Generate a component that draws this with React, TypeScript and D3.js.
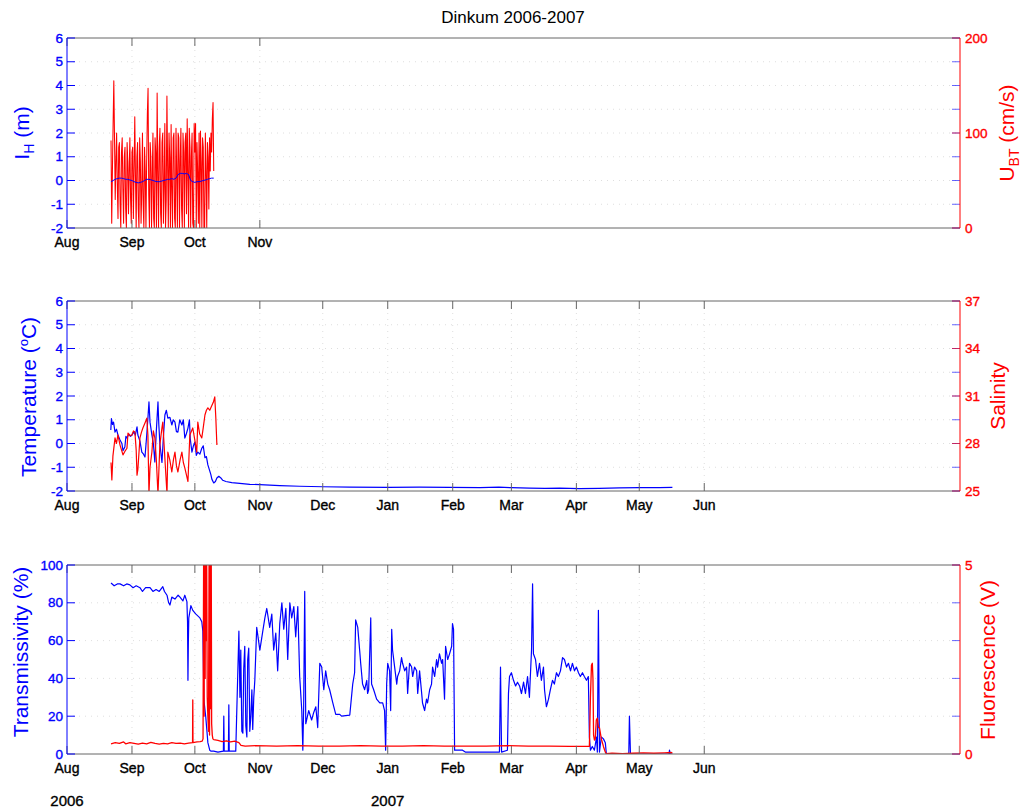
import React from "react";
import * as d3 from "d3";

const FONT = "'Liberation Sans', Arial, Helvetica, sans-serif";
const BLUE = "#0000ff";
const RED = "#ff0000";
const AXIS_GRAY = "#666666";

// ---- time axis ----
const axisStart = "2006-08-01";
const axisEnd = "2007-10-01";
const monthsShort = ["2006-08-01", "2006-09-01", "2006-10-01", "2006-11-01"];
const monthsLong = [
  "2006-08-01", "2006-09-01", "2006-10-01", "2006-11-01", "2006-12-01", "2007-01-01",
  "2007-02-01", "2007-03-01", "2007-04-01", "2007-05-01", "2007-06-01",
];
const yearLabels = ["2006", "2007"];
const yearDates = ["2006-08-01", "2007-01-01"];

// ---- tick values ----
const ihTicks = [-2, -1, 0, 1, 2, 3, 4, 5, 6];
const ubtTicks = [0, 100, 200];
const tempTicks = [-2, -1, 0, 1, 2, 3, 4, 5, 6];
const salTicks = [25, 28, 31, 34, 37];
const transTicks = [0, 20, 40, 60, 80, 100];
const fluorTicks = [0, 5];

// ---- data (days since 2006-08-01) ----
// Panel 1: U_BT (cm/s), sampled every 1/3 day from day 21
const ubtStartDay = 21;
const ubtStepDay = 1 / 3;
const ubtValues = [
  92, 5, 60, 110, 155, 95, 30, 70, 100, 45,
  10, 85, 90, 25, 0, 80, 95, 40, 5, 75,
  85, 20, 0, 90, 70, 15, 60, 95, 30, 5,
  80, 85, 10, 60, 117, 55, 0, 75, 90, 20,
  0, 95, 70, 5, 40, 100, 25, 0, 85, 60,
  0, 70, 120, 147, 35, 0, 90, 75, 0, 55,
  100, 10, 0, 95, 80, 0, 142, 60, 0, 85,
  105, 15, 0, 90, 100, 5, 45, 110, 0, 30,
  139, 65, 0, 100, 75, 0, 109, 40, 0, 95,
  100, 10, 0, 105, 60, 0, 100, 95, 0, 70,
  105, 20, 0, 100, 80, 0, 90, 100, 15, 115,
  60, 0, 105, 85, 0, 75, 100, 5, 0, 110,
  80, 110, 0, 90, 60, 5, 100, 0, 102, 70,
  0, 95, 85, 0, 0, 100, 60, 0, 90, 75,
  20, 95, 60, 100, 80, 115, 132, 60,
];
// Panel 1: I_H (m), daily from day 21
const ihStartDay = 21;
const ihStepDay = 1;
const ihValues = [
  -0.05, 0.0, 0.05, 0.08, 0.1, 0.1, 0.08, 0.05, 0.05, 0.02,
  0.0, -0.05, -0.08, -0.1, -0.08, -0.05, 0.0, 0.05, 0.05, 0.03,
  0.0, -0.03, -0.05, -0.05, -0.03, 0.0, 0.02, 0.05, 0.05, 0.08,
  0.05, 0.1, 0.25, 0.3, 0.3, 0.28, 0.3, 0.25, 0.0, -0.05,
  -0.08, -0.05, -0.05, -0.03, 0.0, 0.02, 0.05, 0.08, 0.1, 0.1,
];

// Panel 2: temperature (°C)
const tempDays = [
  20.9, 21.2, 21.7, 22.2, 22.9, 23.6, 24.3, 25.3, 26.2, 26.7, 27.6, 28.1, 28.6, 29.5, 30.3, 31.0,
  31.9, 32.6, 33.4, 33.8, 34.8, 35.7, 36.5, 37.2, 37.9, 38.6, 39.1, 39.6, 40.5, 41.2, 41.9, 42.6,
  43.4, 43.8, 44.3, 45.3, 46.0, 46.7, 47.4, 48.1, 49.1, 50.0, 50.7, 51.5, 52.2, 52.9, 53.8, 54.8,
  55.5, 56.2, 56.9, 57.7, 58.4, 58.8, 59.6, 60.3, 61.0, 61.7, 62.4, 63.4, 64.3, 65.0, 65.8, 66.5,
  67.2, 67.9, 68.6, 69.1, 70.0, 70.8, 71.5, 72.4, 73.4, 74.3, 75.8, 78.6, 82.4, 87.2, 92.0, 101.5,
  111, 122, 135, 153, 168, 182.5, 197, 206, 212, 220.6, 228, 235, 244.5, 254, 263.5, 273, 282.6, 288.8,
];
const tempValues = [
  0.57, 1.05, 0.8, 0.9, 0.48, 0.6, 0.36, 0.15, 0.0, -0.3, -0.15, 0.3, 0.23, 0.4, 0.3, 0.36,
  0.5, 0.35, 0.7, 0.36, 0.1, -0.36, -0.45, -0.57, 0.2, 1.07, 1.75, 0.9, 0.36, 0.0, -0.78, 0.5,
  1.75, 0.8, 0.0, -0.8, 0.3, 1.2, 1.4, 1.07, 1.1, 0.78, 1.0, 0.9, 0.5, 0.48, 1.0, 0.78,
  1.0, 0.23, 0.4, 0.65, 1.0, 0.2, -0.36, -0.1, 0.06, -0.5, -0.36, -0.45, -0.2, -0.1, -0.6, -0.55,
  -0.9, -1.1, -1.3, -1.5, -1.66, -1.6, -1.45, -1.38, -1.45, -1.55, -1.6, -1.65, -1.68, -1.72, -1.73, -1.77,
  -1.8, -1.82, -1.84, -1.85, -1.84, -1.85, -1.86, -1.84, -1.86, -1.88, -1.89, -1.88, -1.9, -1.89, -1.87, -1.86, -1.86, -1.85,
];
// Panel 2: salinity
const salDays = [
  21.0, 21.4, 21.9, 22.9, 23.6, 24.3, 25.3, 26.0, 26.7, 27.6, 28.6, 29.1, 30.0, 31.0, 31.7, 32.4,
  33.0, 33.4, 33.8, 34.8, 35.5, 36.2, 37.2, 38.1, 38.6, 39.1, 39.6, 40.5, 41.2, 41.9, 42.6, 43.4,
  44.3, 45.3, 45.7, 46.5, 47.7, 48.1, 49.0, 50.0, 50.8, 51.5, 52.2, 52.9, 54.0, 54.8, 55.5, 56.2,
  57.0, 57.7, 58.6, 60.0, 61.0, 61.9, 62.4, 63.3, 64.3, 65.0, 65.8, 66.5, 67.2, 68.1, 69.1, 69.8,
  70.5, 71.0, 71.5,
];
const salValues = [
  26.8, 25.7, 27.2, 28.35, 28.0, 28.54, 27.9, 27.6, 27.28, 27.5, 27.7, 28.66, 28.5, 28.54, 28.8, 28.72,
  27.6, 26.0, 26.35, 28.35, 28.7, 28.98, 29.3, 29.6, 28.5, 24.8, 26.5, 27.46, 28.8, 28.35, 27.0, 24.8,
  27.91, 29.0, 29.35, 27.5, 24.8, 27.46, 27.0, 26.2, 27.0, 27.46, 26.6, 26.2, 27.0, 27.46, 26.8, 26.46,
  26.0, 25.6, 28.54, 28.98, 28.2, 27.46, 29.35, 28.6, 28.35, 29.0, 29.8, 30.1, 30.25, 30.1, 30.4, 30.6,
  30.94, 29.6, 27.91,
];

// Panel 3: transmissivity (%)
const transDays = [
  21.0, 22.5, 24, 25.3, 27, 28.5, 30.0, 31.5, 33, 34.8, 36, 37.5, 39.6, 41, 42.5, 44,
  45.7, 46.5, 47.7, 48.5, 49.1, 50.0, 51.5, 53.0, 53.9, 55.3, 56.2, 57.2, 57.5, 57.7, 57.9, 58.1,
  59.1, 60.0, 61.5, 63.4, 64.3, 64.8, 65.3, 66.2, 67.2, 68.1, 68.6, 70, 72, 74.6, 74.8, 75.0,
  77.0, 77.2, 77.4, 80.5, 81.0, 82.0, 82.5, 82.9, 83.4, 83.9, 84.3, 84.8, 85.3, 85.8, 86.2, 86.7,
  87.2, 87.7, 88.2, 88.6, 89.1, 89.6, 90.5, 92.0, 93.4, 94.4, 95.3, 96.7, 97.7, 98.6, 99.6, 100.5,
  101.5, 102.5, 103.4, 104.4, 105.3, 106.3, 107.2, 108.2, 109.1, 110.1, 111.0, 112.0, 112.5, 112.9, 113.4, 113.9,
  115.3, 116.7, 117.7, 118.7, 119.6, 120.6, 121.5, 122.5, 123.4, 124.4, 125.3, 126.8, 128.2, 130.1, 131.0, 134.9,
  136.3, 137.2, 137.7, 138.7, 139.6, 140.1, 141.0, 142.0, 143.0, 143.4, 143.9, 144.9, 145.3, 146.3, 147.7, 149.2,
  150.6, 151.5, 152.0, 152.5, 153.0, 153.9, 154.4, 154.9, 155.3, 156.3, 157.3, 157.7, 158.7, 159.6, 160.1, 161.1,
  162.0, 162.5, 163.4, 164.4, 164.9, 165.8, 166.8, 167.3, 168.2, 169.2, 169.6, 170.6, 171.5, 172.0, 173.0, 173.9,
  174.4, 175.4, 176.3, 176.8, 177.7, 178.7, 179.2, 180.1, 180.6, 181.6, 182.5, 183.5, 183.9, 184.4, 184.9, 188.7,
  190, 206.3, 206.8, 207.3, 210.1, 210.6, 211.1, 212.0, 213.0, 214.0, 214.9, 215.9, 216.8, 217.8, 218.7, 219.7,
  220.6, 221.6, 222.1, 222.5, 223.5, 224.4, 225.4, 226.3, 227.3, 227.8, 228.7, 229.7, 230.6, 231.6, 232.5, 233.5,
  234.4, 235.4, 236.4, 237.3, 238.3, 239.2, 240.2, 241.1, 242.1, 243.0, 244.0, 244.9, 245.9, 246.8, 247.8, 248.7,
  249.2, 249.7, 250.6, 251.6, 252.6, 253.0, 253.5, 254.0, 254.9, 255.9, 256.8, 257.3, 268.0, 268.3, 268.8, 287.2,
  287.4, 287.8, 288.8,
];
const transValues = [
  90.5, 89, 90, 90, 89, 90, 89.5, 88, 89, 88, 86, 88, 88, 86, 87, 86,
  88.5, 86, 84, 80, 78.8, 83, 82, 84, 83, 81, 84, 80.6, 70, 39, 60, 72,
  78.5, 76, 74, 72, 70, 65, 28.5, 19.6, 6, 2, 1.5, 1.5, 1, 1.5, 20, 1.5,
  1.5, 26, 1.5, 1.5, 23, 65, 30, 55, 12, 11, 45, 57, 15, 9, 50, 56,
  12, 20, 34, 13, 30, 39, 67, 55, 65, 72, 77, 67, 74, 55, 64, 44,
  69, 80, 66, 77, 50, 80, 72, 78, 62, 78, 41, 23, 2, 25, 86, 16,
  23, 18, 22, 25, 14, 48, 46, 34, 44, 37, 34, 27, 21, 21, 20, 20.6,
  37, 43, 71, 67, 55, 48, 37, 34, 39, 32, 34, 72, 37, 34, 29, 27,
  27, 23, 2, 37, 48, 44, 23, 66, 55, 46, 37, 41, 44, 51, 48, 44,
  46, 32, 48, 46, 41, 46, 44, 32, 44, 32, 27, 23, 29, 27, 34, 37,
  46, 41, 50, 46, 53, 48, 50, 29, 57, 50, 53, 57, 69, 66, 2, 2,
  1, 1, 46, 1, 2, 32, 41, 43, 39, 36, 38, 36, 32, 38, 32, 41,
  30, 55, 90, 53, 50, 41, 48, 39, 46, 34, 25, 29, 34, 39, 37, 43,
  41, 44, 51, 50, 46, 48, 44, 48, 44, 46, 43, 41, 43, 41, 39, 41,
  9, 2, 4, 2, 9, 1, 76, 1, 9, 8, 6, 0, 0, 20, 0, 0,
  2, 0, 0,
];
// Panel 3: fluorescence (V)
const fluorDays = [
  21.0, 23, 25, 27, 28, 30, 32, 34, 36, 38, 40, 42, 44, 46, 48, 50,
  52, 54, 56, 58, 59.9, 60.0, 60.1, 62, 63.5, 64.5, 64.9, 65.2, 65.4, 65.6, 65.9, 66.1,
  66.4, 66.6, 66.9, 67.2, 67.5, 67.8, 68.0, 68.3, 68.5, 68.8, 69.0, 69.3, 69.6, 70.0, 72, 74,
  76, 78, 80, 82, 83, 85, 90, 100, 110, 120, 130, 140, 150, 160, 170, 180,
  190, 200, 210, 220, 230, 240, 249.2, 249.7, 250.2, 250.6, 250.9, 251.2, 251.6, 252.0, 252.5, 253.0,
  253.5, 254.0, 254.9, 255.9, 256.8, 257.3, 260, 265, 270, 275, 280, 285, 288.3, 288.8,
];
const fluorValues = [
  0.27, 0.3, 0.28, 0.32, 0.27, 0.3, 0.28, 0.26, 0.29, 0.27, 0.31, 0.28, 0.26, 0.28, 0.27, 0.3,
  0.28, 0.29, 0.27, 0.29, 0.3, 1.43, 0.3, 0.32, 0.33, 0.34, 0.4, 5.5, 1.0, 5.5, 2.0, 5.5,
  3.0, 5.5, 1.5, 1.0, 0.6, 5.5, 0.5, 5.5, 1.2, 5.5, 0.8, 0.5, 0.4, 0.38, 0.36, 0.33,
  0.35, 0.32, 0.34, 0.3, 0.23, 0.21, 0.22, 0.21, 0.22, 0.21, 0.21, 0.22, 0.21, 0.21, 0.22, 0.21,
  0.21, 0.21, 0.22, 0.21, 0.21, 0.2, 0.2, 1.5, 2.35, 2.4, 2.0, 0.5, 0.37, 0.4, 0.9, 0.95,
  0.7, 0.7, 0.4, 0.2, 0.05, 0.01, 0.02, 0.01, 0.02, 0.03, 0.02, 0.03, 0.04, 0.02,
];

const parse = d3.utcParse("%Y-%m-%d");
const BASE = parse(axisStart)!.getTime();
const dayToDate = (d: number) => new Date(BASE + d * 864e5);

type Series = { pts: [number, number][]; axis: "L" | "R"; color: string; width: number };

function regular(start: number, step: number, vals: number[]): [number, number][] {
  return vals.map((v, i) => [start + i * step, v]);
}
function paired(days: number[], vals: number[]): [number, number][] {
  return days.map((d, i) => [d, vals[i]]);
}

const X_LEFT = 67;
const X_RIGHT = 960;
const TICK = 8;
const TICK_FS = 13.5;

export default function App() {
  const x = d3.scaleUtc().domain([parse(axisStart)!, parse(axisEnd)!]).range([X_LEFT, X_RIGHT]);

  const panels = [
    {
      id: "p1", top: 38, bottom: 228,
      lDom: [-2, 6], rDom: [0, 200], lTicks: ihTicks, rTicks: ubtTicks, months: monthsShort,
      series: [
        { pts: regular(ubtStartDay, ubtStepDay, ubtValues), axis: "R", color: RED, width: 1.05 },
        { pts: regular(ihStartDay, ihStepDay, ihValues), axis: "L", color: BLUE, width: 1 },
      ] as Series[],
      leftLabel: { x: 29, y: 133, content: (<>I<tspan dy={5} fontSize={14}>H</tspan><tspan dy={-5}> (m)</tspan></>) },
      rightLabel: { x: 1014, y: 133, content: (<>U<tspan dy={5} fontSize={14}>BT</tspan><tspan dy={-5}> (cm/s)</tspan></>) },
    },
    {
      id: "p2", top: 301, bottom: 491,
      lDom: [-2, 6], rDom: [25, 37], lTicks: tempTicks, rTicks: salTicks, months: monthsLong,
      series: [
        { pts: paired(tempDays, tempValues), axis: "L", color: BLUE, width: 1.2 },
        { pts: paired(salDays, salValues), axis: "R", color: RED, width: 1.2 },
      ] as Series[],
      leftLabel: { x: 36, y: 397, content: (<>Temperature (<tspan dy={-8} fontSize={13}>o</tspan><tspan dy={8}>C)</tspan></>) },
      rightLabel: { x: 1005, y: 396, content: (<>Salinity</>) },
    },
    {
      id: "p3", top: 565, bottom: 754,
      lDom: [0, 100], rDom: [0, 5], lTicks: transTicks, rTicks: fluorTicks, months: monthsLong,
      series: [
        { pts: paired(transDays, transValues), axis: "L", color: BLUE, width: 1.2 },
        { pts: paired(fluorDays, fluorValues), axis: "R", color: RED, width: 1.3 },
      ] as Series[],
      leftLabel: { x: 28, y: 652, content: (<>Transmissivity (%)</>) },
      rightLabel: { x: 995, y: 660, content: (<>Fluorescence (V)</>) },
    },
  ];

  const textThick = { stroke: "currentColor", strokeWidth: 0.35 };

  return (
    <svg width={1028} height={811} style={{ position: "absolute", left: 0, top: 0, background: "#fff" }}
      fontFamily={FONT}>
      <rect x={0} y={0} width={1028} height={811} fill="#fff" />
      <defs>
        {panels.map((p) => (
          <clipPath id={`clip-${p.id}`} key={p.id}>
            <rect x={X_LEFT} y={p.top} width={X_RIGHT - X_LEFT} height={p.bottom - p.top} />
          </clipPath>
        ))}
      </defs>
      <text x={513} y={23} textAnchor="middle" fontSize={17} fill="#000">Dinkum 2006-2007</text>
      {panels.map((p) => {
        const yL = d3.scaleLinear().domain(p.lDom).range([p.bottom, p.top]);
        const yR = d3.scaleLinear().domain(p.rDom).range([p.bottom, p.top]);
        const monthDates = p.months.map((m) => parse(m)!);
        const fmt = d3.utcFormat("%b");
        return (
          <g key={p.id}>
            {/* grid */}
            <g stroke="#d6d6d6" strokeWidth={0.8} strokeDasharray="1 5">
              {p.lTicks.slice(1, -1).map((t) => (
                <line key={`gh${t}`} x1={X_LEFT} x2={X_RIGHT} y1={yL(t)} y2={yL(t)} />
              ))}
              {monthDates.slice(1).map((d, i) => (
                <line key={`gv${i}`} x1={x(d)} x2={x(d)} y1={p.top} y2={p.bottom} />
              ))}
            </g>
            {/* data */}
            <g clipPath={`url(#clip-${p.id})`}>
              {p.series.map((s, i) => {
                const ys = s.axis === "L" ? yL : yR;
                const line = d3.line<[number, number]>()
                  .x((d) => x(dayToDate(d[0])))
                  .y((d) => ys(d[1]));
                return <path key={i} d={line(s.pts) || ""} fill="none" stroke={s.color} strokeWidth={s.width} strokeLinejoin="round" />;
              })}
            </g>
            {/* box: top and bottom */}
            <line x1={X_LEFT} x2={X_RIGHT} y1={p.top} y2={p.top} stroke={AXIS_GRAY} strokeWidth={1} />
            <line x1={X_LEFT} x2={X_RIGHT} y1={p.bottom} y2={p.bottom} stroke={AXIS_GRAY} strokeWidth={1} />
            {/* month ticks */}
            {monthDates.map((d, i) => (
              <g key={`m${i}`}>
                <line x1={x(d)} x2={x(d)} y1={p.bottom} y2={p.bottom - TICK} stroke={AXIS_GRAY} />
                <line x1={x(d)} x2={x(d)} y1={p.top} y2={p.top + TICK} stroke={AXIS_GRAY} />
                <text x={x(d)} y={p.bottom + 18.5} textAnchor="middle" fontSize={14} fill="#000" color="#000" {...textThick}>{fmt(d)}</text>
              </g>
            ))}
            {/* left axis */}
            <line x1={X_LEFT} x2={X_LEFT} y1={p.top} y2={p.bottom} stroke={BLUE} />
            {p.lTicks.map((t) => (
              <g key={`lt${t}`}>
                <line x1={X_LEFT} x2={X_LEFT + TICK} y1={yL(t)} y2={yL(t)} stroke={BLUE} />
                <line x1={X_RIGHT - TICK} x2={X_RIGHT} y1={yL(t)} y2={yL(t)} stroke={BLUE} strokeOpacity={0.6} />
                <text x={63} y={yL(t) + 4.5} textAnchor="end" fontSize={TICK_FS} fill={BLUE} color={BLUE} {...textThick}>{t}</text>
              </g>
            ))}
            {/* right axis */}
            <line x1={X_RIGHT} x2={X_RIGHT} y1={p.top} y2={p.bottom} stroke={RED} />
            {p.rTicks.map((t) => (
              <g key={`rt${t}`}>
                <line x1={X_RIGHT - TICK} x2={X_RIGHT} y1={yR(t)} y2={yR(t)} stroke={RED} strokeOpacity={0.6} />
                <text x={965} y={yR(t) + 4.5} textAnchor="start" fontSize={TICK_FS} fill={RED} color={RED} {...textThick}>{t}</text>
              </g>
            ))}
            {/* axis labels */}
            <text transform={`translate(${p.leftLabel.x},${p.leftLabel.y}) rotate(-90)`} textAnchor="middle" fontSize={21} fill={BLUE}>
              {p.leftLabel.content}
            </text>
            <text transform={`translate(${p.rightLabel.x},${p.rightLabel.y}) rotate(-90)`} textAnchor="middle" fontSize={21} fill={RED}>
              {p.rightLabel.content}
            </text>
          </g>
        );
      })}
      {yearLabels.map((lbl, i) => (
        <text key={lbl} x={x(parse(yearDates[i])!)} y={806} textAnchor="middle" fontSize={15} fill="#000" color="#000" {...textThick}>{lbl}</text>
      ))}
    </svg>
  );
}
